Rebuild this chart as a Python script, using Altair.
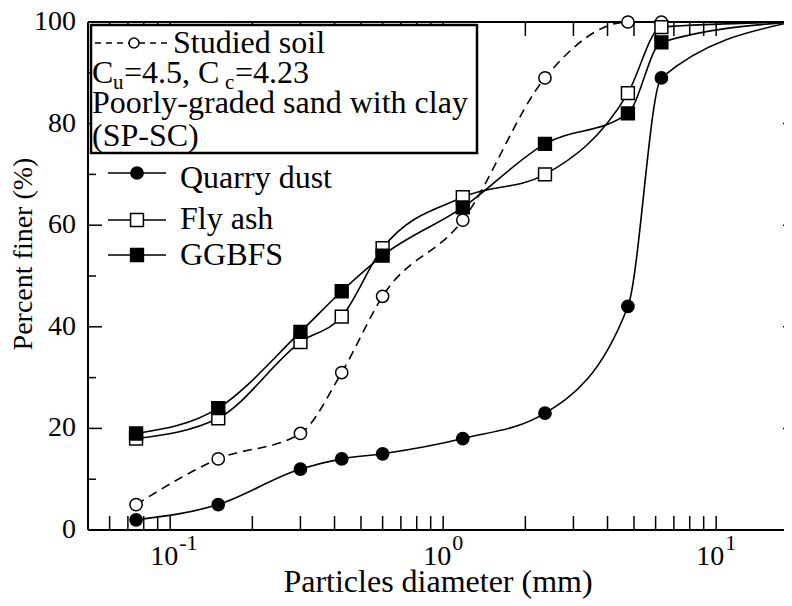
import altair as alt
import pandas as pd

# ---------------- data ----------------
sizes = [0.075, 0.15, 0.3, 0.425, 0.6, 1.18, 2.36, 4.75, 6.3, 19]
studied = [5, 14, 19, 31, 46, 61, 89, 100, 100, 100]
quarry = [2, 5, 12, 14, 15, 18, 23, 44, 89, 100]
flyash = [18, 22, 37, 42, 55.5, 65.5, 70, 86, 99, 100]
ggbfs = [19, 24, 39, 47, 54, 63.5, 76, 82, 96, 100]

x_tick_vals = [0.06, 0.07, 0.08, 0.09,
               0.1, 0.2, 0.3, 0.4, 0.5, 0.6, 0.7, 0.8, 0.9,
               1, 2, 3, 4, 5, 6, 7, 8, 9, 10]
x_label_vals = [0.1, 1, 10]
x_label_sups = ["-1", "0", "1"]
y_major = [0, 20, 40, 60, 80, 100]
y_minor = [10, 30, 50, 70, 90]
x_title = "Particles diameter (mm)"
y_title = "Percent finer (%)"

# ---------------- layout ----------------
W = 696          # visible plot width (plot continues past the page edge)
FULL_W = 710     # where the right axis would sit
H = 508
FONT = "Liberation Serif"
LEG = 32

X_SCALE = alt.Scale(type="log", domain=[0.05, 17.72], nice=False)
Y_SCALE = alt.Scale(domain=[0, 100], nice=False)

one = pd.DataFrame({"k": [0]})


def xenc(field):
    return alt.X(field, type="quantitative", scale=X_SCALE, axis=None)


def yenc(field):
    return alt.Y(field, type="quantitative", scale=Y_SCALE, axis=None)


def rule(x1, x2, y1, y2, width=2):
    return alt.Chart(one).mark_rule(color="black", strokeWidth=width).encode(
        x=alt.value(x1), x2=alt.value(x2), y=alt.value(y1), y2=alt.value(y2))


layers = []

# frame lines
layers.append(rule(0, 0, 0, H))
layers.append(rule(0, FULL_W, H, H))
layers.append(rule(0, FULL_W, 0, 0))

# ticks (inward) on all four sides
xt = pd.DataFrame({"v": x_tick_vals})
layers.append(alt.Chart(xt).mark_rule(color="black", strokeWidth=1.5).encode(
    x=xenc("v"), y=alt.value(H), y2=alt.value(H - 14)))
layers.append(alt.Chart(xt).mark_rule(color="black", strokeWidth=1.5).encode(
    x=xenc("v"), y=alt.value(0), y2=alt.value(14)))
ymj = pd.DataFrame({"v": y_major})
ymn = pd.DataFrame({"v": y_minor})
layers.append(alt.Chart(ymj).mark_rule(color="black", strokeWidth=1.5).encode(
    y=yenc("v"), x=alt.value(0), x2=alt.value(14)))
layers.append(alt.Chart(ymn).mark_rule(color="black", strokeWidth=1.5).encode(
    y=yenc("v"), x=alt.value(0), x2=alt.value(8)))
layers.append(alt.Chart(ymj).mark_rule(color="black", strokeWidth=1.5).encode(
    y=yenc("v"), x=alt.value(FULL_W - 15), x2=alt.value(FULL_W)))
layers.append(alt.Chart(ymn).mark_rule(color="black", strokeWidth=1.5).encode(
    y=yenc("v"), x=alt.value(FULL_W - 8), x2=alt.value(FULL_W)))

# y tick labels
layers.append(alt.Chart(ymj).mark_text(align="right", baseline="middle",
                                       font=FONT, fontSize=28, color="black").encode(
    y=yenc("v"), x=alt.value(-12), text="v:Q"))

# x tick labels 10^n
xl = pd.DataFrame({"v": x_label_vals, "s": x_label_sups})
layers.append(alt.Chart(xl).mark_text(text="10", align="right", dx=8,
                                      baseline="alphabetic", font=FONT,
                                      fontSize=28, color="black").encode(
    x=xenc("v"), y=alt.value(H + 35)))
layers.append(alt.Chart(xl).mark_text(align="left", dx=9,
                                      baseline="alphabetic", font=FONT,
                                      fontSize=22, color="black").encode(
    x=xenc("v"), y=alt.value(H + 20), text="s:N"))

# axis titles
layers.append(alt.Chart(one).mark_text(text=x_title, align="center",
                                       baseline="alphabetic", font=FONT,
                                       fontSize=32, color="black").encode(
    x=alt.value(350), y=alt.value(H + 62)))
layers.append(alt.Chart(one).mark_text(text=y_title, align="center", angle=270,
                                       baseline="alphabetic", font=FONT,
                                       fontSize=28, color="black").encode(
    x=alt.value(-56), y=alt.value(232)))

# legend box (covers ticks underneath)
layers.append(alt.Chart(one).mark_rect(fill="white", stroke="black",
                                       strokeWidth=2.5).encode(
    x=alt.value(3), x2=alt.value(389), y=alt.value(3), y2=alt.value(131)))


# data lines
def line(ys, dash=None):
    kw = dict(color="black", strokeWidth=1.6, interpolate="monotone")
    if dash:
        kw["strokeDash"] = dash
    return alt.Chart(pd.DataFrame({"d": sizes, "p": ys})).mark_line(**kw).encode(
        x=xenc("d"), y=yenc("p"))


def pts(ys, shape, fill, size):
    return alt.Chart(pd.DataFrame({"d": sizes, "p": ys})).mark_point(
        shape=shape, filled=True, fill=fill, stroke="black", strokeWidth=1.5,
        size=size, opacity=1, fillOpacity=1).encode(x=xenc("d"), y=yenc("p"))


layers.append(line(studied, [9, 6]))
layers.append(line(quarry))
layers.append(line(flyash))
layers.append(line(ggbfs))
layers.append(pts(studied, "circle", "white", 150))
layers.append(pts(quarry, "circle", "black", 150))
layers.append(pts(flyash, "square", "white", 165))
layers.append(pts(ggbfs, "square", "black", 165))


# legend contents
def txt(t, x, y, size=LEG):
    return alt.Chart(one).mark_text(text=t, align="left", baseline="alphabetic",
                                    font=FONT, fontSize=size, color="black").encode(
        x=alt.value(x), y=alt.value(y))


def hline(x1, x2, y, dash=None):
    kw = dict(color="black", strokeWidth=1.6)
    if dash:
        kw["strokeDash"] = dash
    return alt.Chart(one).mark_rule(**kw).encode(
        x=alt.value(x1), x2=alt.value(x2), y=alt.value(y))


def mk(x, y, shape, fill, size):
    return alt.Chart(one).mark_point(shape=shape, filled=True, fill=fill,
                                     stroke="black", strokeWidth=1.5, size=size,
                                     opacity=1, fillOpacity=1).encode(
        x=alt.value(x), y=alt.value(y))


# Studied soil entry inside the box
layers.append(hline(7, 80, 21, [6, 5]))
layers.append(mk(46, 21, "circle", "white", 100))
layers.append(txt("Studied soil", 85, 31))
layers.append(txt("C", 4, 61))
layers.append(txt("u", 25, 67, 21))
layers.append(txt("=4.5, C", 36, 61))
layers.append(txt("c", 137, 67, 21))
layers.append(txt("=4.23", 147, 61))
layers.append(txt("Poorly-graded sand with clay", 4, 91))
layers.append(txt("(SP-SC)", 4, 124))

# other entries
layers.append(hline(20, 78, 151))
layers.append(mk(49, 151, "circle", "black", 150))
layers.append(txt("Quarry dust", 92, 166))
layers.append(hline(20, 78, 198))
layers.append(mk(49, 198, "square", "white", 165))
layers.append(txt("Fly ash", 92, 207))
layers.append(hline(20, 78, 233))
layers.append(mk(49, 233, "square", "black", 165))
layers.append(txt("GGBFS", 92, 243))

chart = alt.layer(*layers).properties(
    width=W, height=H,
    autosize=alt.AutoSizeParams(type="none"),
    padding={"left": 80, "top": 14, "right": 0, "bottom": 69},
    background="white",
).configure_view(strokeWidth=0)

chart.save("out.html", embed_options={"renderer": "svg", "actions": False})
